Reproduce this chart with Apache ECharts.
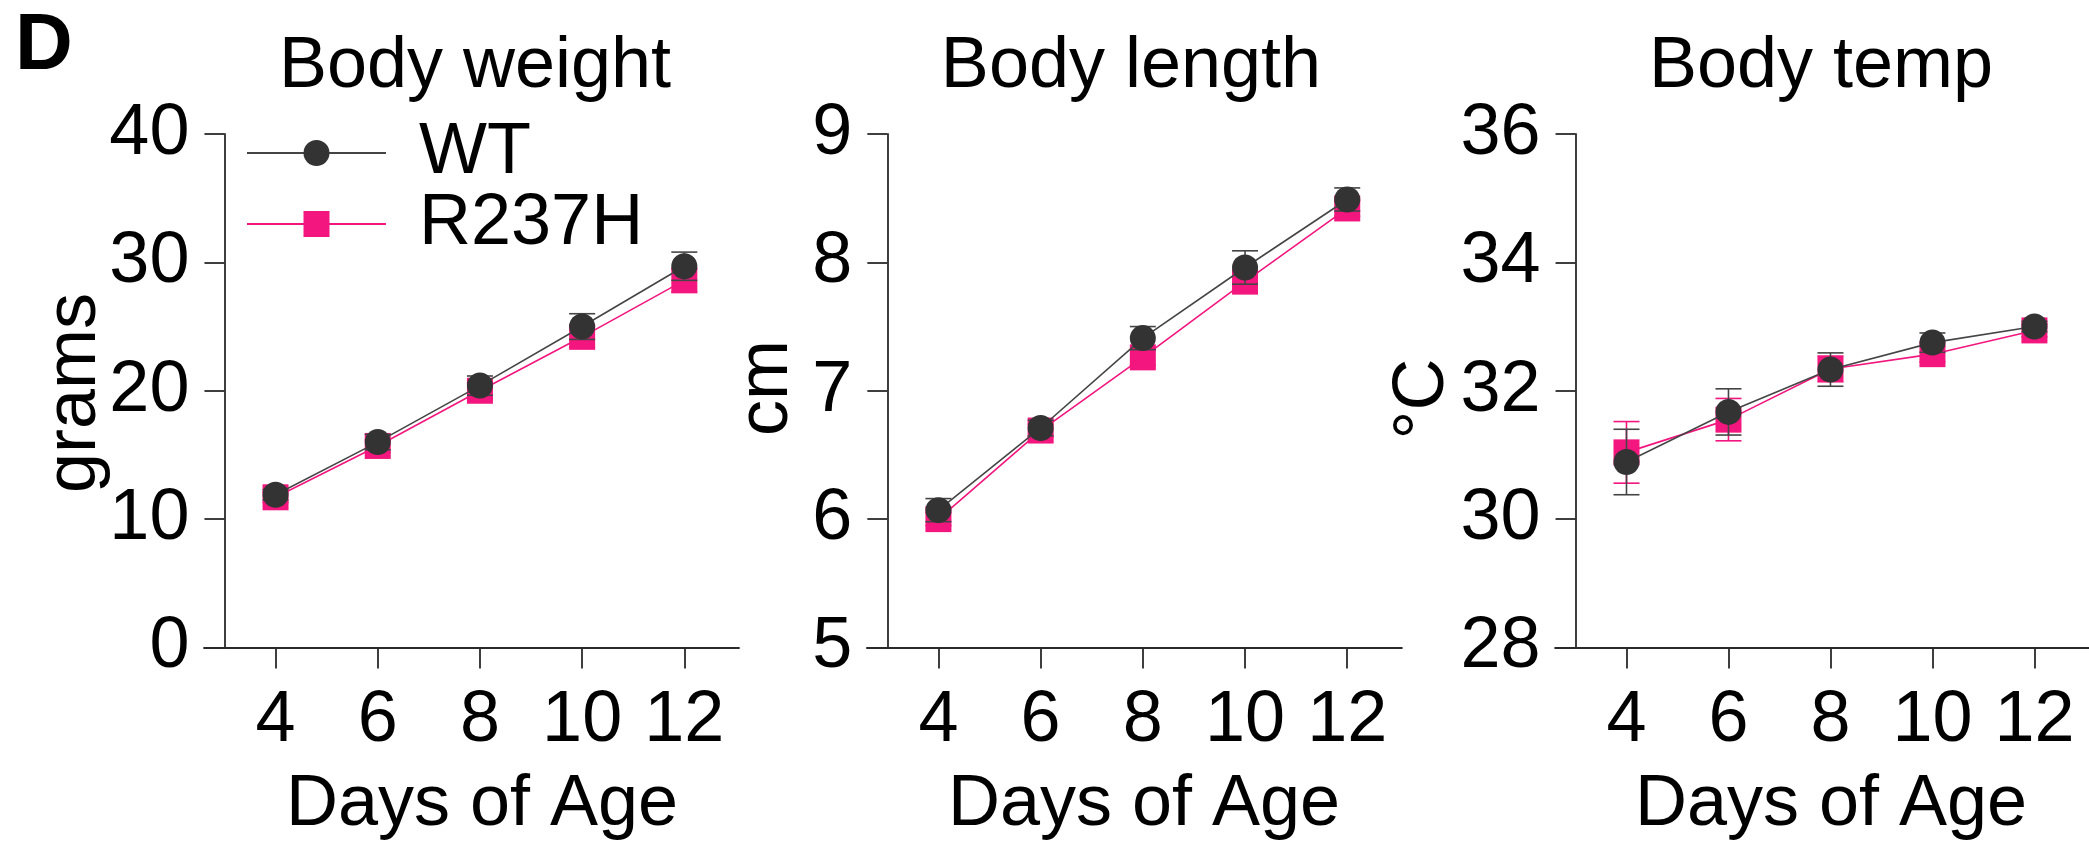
<!DOCTYPE html>
<html>
<head>
<meta charset="utf-8">
<script src="https://cdn.jsdelivr.net/npm/echarts@6/dist/echarts.min.js"></script>
<style>
html,body{margin:0;padding:0;background:#ffffff;}
#chart{width:2089px;height:845px;}
</style>
</head>
<body>
<div id="chart"></div>
<script>
// ---------------- data ----------------
const days = [4, 6, 8, 10, 12];
const dayTicks = [4, 6, 8, 10, 12];
const seriesNames = ['WT', 'R237H'];
const panelTitles = ['Body weight', 'Body length', 'Body temp'];
const yAxisNames = ['grams', 'cm', '°C'];
const xAxisName = 'Days of Age';
const panelLetter = 'D';

// Body weight (grams), mean and SEM
const wtWeight = [11.9, 16.0, 20.4, 25.0, 29.7];
const wtWeightErr = [0.4, 0.6, 0.75, 1.0, 1.1];
const mutWeight = [11.7, 15.7, 20.0, 24.2, 28.6];
const mutWeightErr = [0.4, 0.5, 0.6, 0.8, 0.9];

// Body length (cm)
const wtLength = [6.07, 6.71, 7.41, 7.96, 8.49];
const wtLengthErr = [0.09, 0.06, 0.09, 0.13, 0.09];
const mutLength = [6.00, 6.69, 7.26, 7.85, 8.42];
const mutLengthErr = [0.05, 0.05, 0.06, 0.07, 0.06];

// Body temp (°C)
const wtTemp = [30.89, 31.67, 32.33, 32.75, 33.00];
const wtTempErr = [0.51, 0.36, 0.26, 0.15, 0.08];
const mutTemp = [31.04, 31.55, 32.34, 32.57, 32.94];
const mutTempErr = [0.48, 0.33, 0.20, 0.12, 0.10];

// y axis tick settings per panel
const yMins = [0, 5, 28];
const yMaxs = [40, 9, 36];
const yIntervals = [10, 1, 2];

// ---------------- styles / layout ----------------
const FONT = '"Liberation Sans", Arial, Helvetica, sans-serif';
const DARK = '#333333';
const DARK_LINE = '#454545';
const PINK = '#F2167E';
const AXIS = '#2a2a2a';

const gridLefts = [204, 866.9, 1555.1];
const gridTop = 134;
const gridBottom = 197.5;
const gridWidth = 535;
const xMin = 2.6, xMax = 13.07, yAxisAt = 3;
const yOffset = -(yAxisAt - xMin) * gridWidth / (xMax - xMin);

const titleX = [475, 1131, 1821];
const xNameX = [482, 1144, 1831];
const yNamePos = [[75, 393], [767, 388], [1423, 399]];

const panels = [
  { wt: wtWeight, wtErr: wtWeightErr, mut: mutWeight, mutErr: mutWeightErr },
  { wt: wtLength, wtErr: wtLengthErr, mut: mutLength, mutErr: mutLengthErr },
  { wt: wtTemp, wtErr: wtTempErr, mut: mutTemp, mutErr: mutTempErr }
];

function errRenderer(color) {
  return function (params, api) {
    const x = api.value(0), m = api.value(1), e = api.value(2);
    const top = api.coord([x, m + e]);
    const bot = api.coord([x, m - e]);
    const hw = 13;
    const style = { stroke: color, lineWidth: 1.6 };
    return {
      type: 'group',
      children: [
        { type: 'line', shape: { x1: top[0], y1: top[1], x2: bot[0], y2: bot[1] }, style: style },
        { type: 'line', shape: { x1: top[0] - hw, y1: top[1], x2: top[0] + hw, y2: top[1] }, style: style },
        { type: 'line', shape: { x1: bot[0] - hw, y1: bot[1], x2: bot[0] + hw, y2: bot[1] }, style: style }
      ]
    };
  };
}

const grids = [], xAxes = [], yAxes = [], series = [], graphics = [];
const axisLineStyle = { color: AXIS, width: 1.8 };

panels.forEach(function (p, i) {
  grids.push({ left: gridLefts[i], top: gridTop, bottom: gridBottom, width: gridWidth, containLabel: false });
  xAxes.push({
    gridIndex: i, type: 'value', min: xMin, max: xMax,
    axisLine: { show: true, onZero: false, lineStyle: axisLineStyle },
    axisTick: { show: true, customValues: dayTicks, length: 21, lineStyle: axisLineStyle },
    axisLabel: { customValues: dayTicks, margin: 38, fontSize: 72, color: '#000', fontFamily: FONT },
    splitLine: { show: false }
  });
  yAxes.push({
    gridIndex: i, type: 'value', min: yMins[i], max: yMaxs[i], interval: yIntervals[i],
    offset: yOffset,
    axisLine: { show: true, onZero: false, lineStyle: axisLineStyle },
    axisTick: { show: true, length: 20, lineStyle: axisLineStyle },
    axisLabel: { margin: 35, fontSize: 72, color: '#000', fontFamily: FONT },
    splitLine: { show: false }
  });

  series.push({
    name: 'R237H err', type: 'custom', xAxisIndex: i, yAxisIndex: i, z: 2,
    renderItem: errRenderer(PINK), encode: { x: 0, y: 1 },
    data: days.map(function (d, k) { return [d, p.mut[k], p.mutErr[k]]; }),
    silent: true
  });
  series.push({
    name: seriesNames[1], type: 'line', xAxisIndex: i, yAxisIndex: i, z: 3,
    data: days.map(function (d, k) { return [d, p.mut[k]]; }),
    symbol: 'rect', symbolSize: 26,
    itemStyle: { color: PINK },
    lineStyle: { color: PINK, width: 1.6 }
  });
  series.push({
    name: 'WT err', type: 'custom', xAxisIndex: i, yAxisIndex: i, z: 4,
    renderItem: errRenderer(DARK_LINE), encode: { x: 0, y: 1 },
    data: days.map(function (d, k) { return [d, p.wt[k], p.wtErr[k]]; }),
    silent: true
  });
  series.push({
    name: seriesNames[0], type: 'line', xAxisIndex: i, yAxisIndex: i, z: 5,
    data: days.map(function (d, k) { return [d, p.wt[k]]; }),
    symbol: 'circle', symbolSize: 26,
    itemStyle: { color: DARK },
    lineStyle: { color: DARK_LINE, width: 1.6 }
  });

  graphics.push({
    type: 'text', x: titleX[i], y: 66.8,
    style: { text: panelTitles[i], font: '72px ' + FONT, fill: '#000',
             align: 'center', verticalAlign: 'middle', textAlign: 'center', textVerticalAlign: 'middle' }
  });
  graphics.push({
    type: 'text', x: xNameX[i], y: 805,
    style: { text: xAxisName, font: '72px ' + FONT, fill: '#000',
             align: 'center', verticalAlign: 'middle', textAlign: 'center', textVerticalAlign: 'middle' }
  });
  graphics.push({
    type: 'text', x: yNamePos[i][0], y: yNamePos[i][1], rotation: Math.PI / 2,
    style: { text: yAxisNames[i], font: '72px ' + FONT, fill: '#000',
             align: 'center', verticalAlign: 'middle', textAlign: 'center', textVerticalAlign: 'middle' }
  });
});

graphics.push({
  type: 'text', x: 15, y: 47.3,
  style: { text: panelLetter, font: 'bold 80px ' + FONT, fill: '#000',
           align: 'left', verticalAlign: 'middle', textAlign: 'left', textVerticalAlign: 'middle' }
});

const legendBase = {
  orient: 'vertical', left: 246, padding: 0, itemWidth: 139, itemHeight: 32.5,
  selectedMode: false,
  textStyle: { fontSize: 72, color: '#000', fontFamily: FONT, padding: [0, 0, 0, 28] }
};

const chart = echarts.init(document.getElementById('chart'), null, { renderer: 'canvas' });
chart.setOption({
  animation: false,
  backgroundColor: '#ffffff',
  grid: grids,
  xAxis: xAxes,
  yAxis: yAxes,
  legend: [
    Object.assign({}, legendBase, { data: [seriesNames[0]], top: 117 }),
    Object.assign({}, legendBase, { data: [seriesNames[1]], top: 188 })
  ],
  series: series,
  graphic: graphics
});
</script>
</body>
</html>
